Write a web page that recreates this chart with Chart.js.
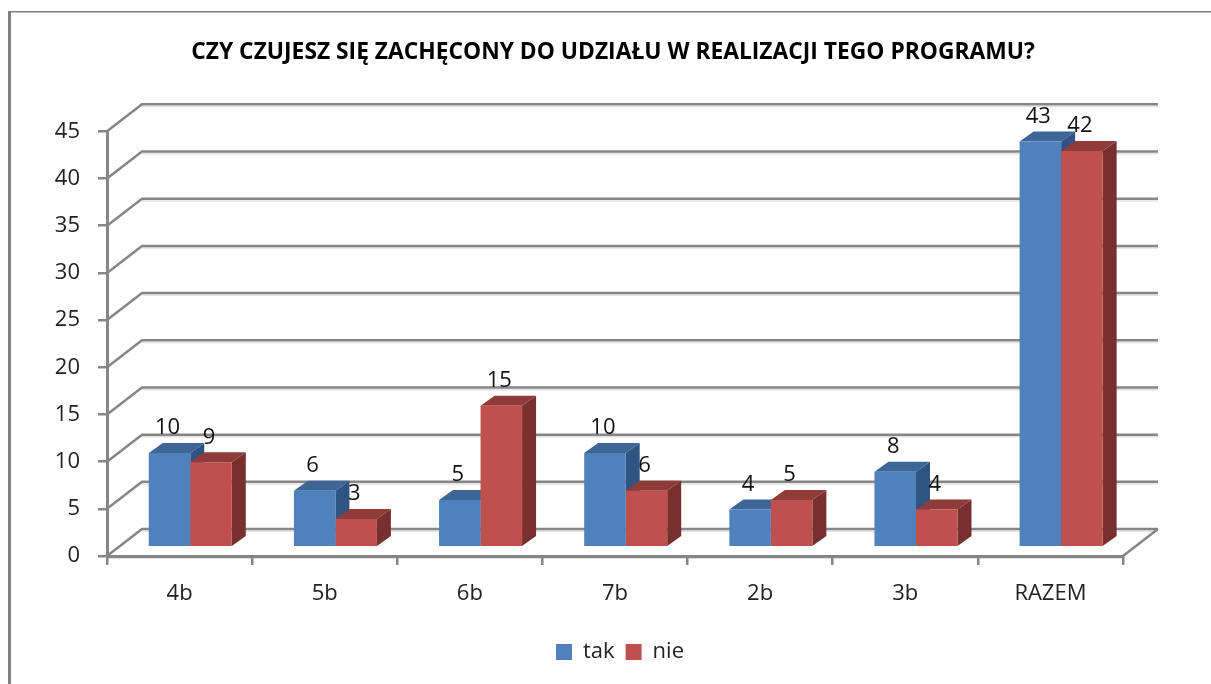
<!DOCTYPE html>
<html><head><meta charset="utf-8">
<style>html,body{margin:0;padding:0;background:#fff}#w{width:1211px;height:684px;position:relative}</style>
<script src="https://cdn.jsdelivr.net/npm/chart.js@4"></script></head>
<body><div id="w"><canvas id="c"></canvas></div>
<script>
const categories=['4b','5b','6b','7b','2b','3b','RAZEM'];
const tak=[10,6,5,10,4,8,43];
const nie=[9,3,15,6,5,4,42];
const titleText='CZY CZUJESZ SIĘ ZACHĘCONY DO UDZIAŁU W REALIZACJI TEGO PROGRAMU?';
const FONT='"Open Sans"';
const GRID='#868686';
const BAR_DX=10.7,BAR_DY=-8.7,DEPTH_X=14,DEPTH_Y=-10,WALL_X=35,WALL_Y=-27;
const shades=[{top:'#3D6697',side:'#2F5483'},{top:'#8F3B39',side:'#78302E'}];
const scene={
 id:'scene',
 afterLayout(ch){ch.legend.left+=7;ch.legend.right+=7;},
 beforeDraw(ch){
  const g=ch.ctx,{x,y}=ch.scales;
  g.save();
  g.fillStyle='#fff';g.fillRect(0,0,ch.width,ch.height);
  g.fillStyle='#808080';
  g.fillRect(8,11,3,ch.height-11);
  g.fillRect(8,11,ch.width-8,1.5);
  const L=x.left,R=x.right;
  y.ticks.forEach(t=>{
   const py=y.getPixelForValue(t.value);
   g.strokeStyle='#e2e2e2';g.lineWidth=1.5;
   g.beginPath();g.moveTo(L+WALL_X,py+WALL_Y+2.2);g.lineTo(R+WALL_X,py+WALL_Y+2.2);g.stroke();
   g.strokeStyle=GRID;g.lineWidth=2.5;
   g.beginPath();g.moveTo(L,py);g.lineTo(L+WALL_X,py+WALL_Y);g.lineTo(R+WALL_X,py+WALL_Y);g.stroke();
  });
  const p0=y.getPixelForValue(0);
  g.beginPath();g.moveTo(R,p0);g.lineTo(R+WALL_X,p0+WALL_Y);g.stroke();
  g.strokeStyle='#e2e2e2';g.lineWidth=1.5;
  g.beginPath();g.moveTo(L,p0+2.2);g.lineTo(R,p0+2.2);g.stroke();
  g.restore();
 },
 beforeDatasetsDraw(ch){
  const g=ch.ctx;
  g.save();g.translate(BAR_DX,BAR_DY);
  ch.data.datasets.forEach((d,i)=>{
   const s=shades[i];
   ch.getDatasetMeta(i).data.forEach(b=>{
    const l=b.x-b.width/2,r=b.x+b.width/2,t=b.y,bt=b.base;
    g.fillStyle=s.side;
    g.beginPath();g.moveTo(r,t);g.lineTo(r+DEPTH_X,t+DEPTH_Y);g.lineTo(r+DEPTH_X,bt+DEPTH_Y);g.lineTo(r,bt);g.closePath();g.fill();
    g.fillStyle=s.top;
    g.beginPath();g.moveTo(l,t);g.lineTo(l+DEPTH_X,t+DEPTH_Y);g.lineTo(r+DEPTH_X,t+DEPTH_Y);g.lineTo(r,t);g.closePath();g.fill();
   });
  });
  g.restore();
 },
 beforeDatasetDraw(ch){ch.ctx.save();ch.ctx.translate(BAR_DX,BAR_DY);},
 afterDatasetDraw(ch){ch.ctx.restore();},
 afterDatasetsDraw(ch){
  const g=ch.ctx;
  g.save();g.fillStyle='#111';g.font='22px '+FONT;g.textAlign='center';g.textBaseline='middle';
  ch.data.datasets.forEach((d,i)=>{
   ch.getDatasetMeta(i).data.forEach((b,j)=>{
    g.fillText(String(d.data[j]),b.x+BAR_DX-2,b.y+BAR_DY-25);
   });
  });
  g.restore();
 }
};
new Chart(document.getElementById('c'),{
 type:'bar',
 data:{labels:categories,datasets:[
  {label:'tak',data:tak,backgroundColor:'#4F81BD',clip:false},
  {label:'nie',data:nie,backgroundColor:'#C0504D',clip:false}]},
 plugins:[scene],
 options:{
  responsive:true,maintainAspectRatio:false,animation:false,
  layout:{padding:{left:15,right:0,top:0,bottom:11}},
  datasets:{bar:{categoryPercentage:0.572,barPercentage:1,borderWidth:0}},
  plugins:{
   tooltip:{enabled:false},
   title:{display:true,text:titleText,color:'#000',font:{family:FONT,size:22.8,weight:'bold'},padding:{top:39,bottom:65}},
   legend:{position:'bottom',labels:{color:'#222',font:{family:FONT,size:22},boxWidth:16,boxHeight:16,padding:11}}
  },
  scales:{
   x:{afterFit(s){s.height=74;},
      grid:{drawOnChartArea:false,drawTicks:true,tickLength:9,color:GRID,lineWidth:2.5},
      border:{color:GRID,width:3},
      ticks:{color:'#222',font:{family:FONT,size:22},padding:16,maxRotation:0}},
   y:{min:0,max:45,afterFit(s){s.width=92;},
      grid:{drawOnChartArea:false,drawTicks:true,tickLength:9,color:GRID,lineWidth:2.5},
      border:{color:GRID,width:3},
      ticks:{stepSize:5,color:'#222',font:{family:FONT,size:22},padding:18}},
   spacer:{position:'right',display:true,afterFit(s){s.width=88;},
      grid:{display:false},border:{display:false},ticks:{display:false}}
  }
 }
});
</script></body></html>
